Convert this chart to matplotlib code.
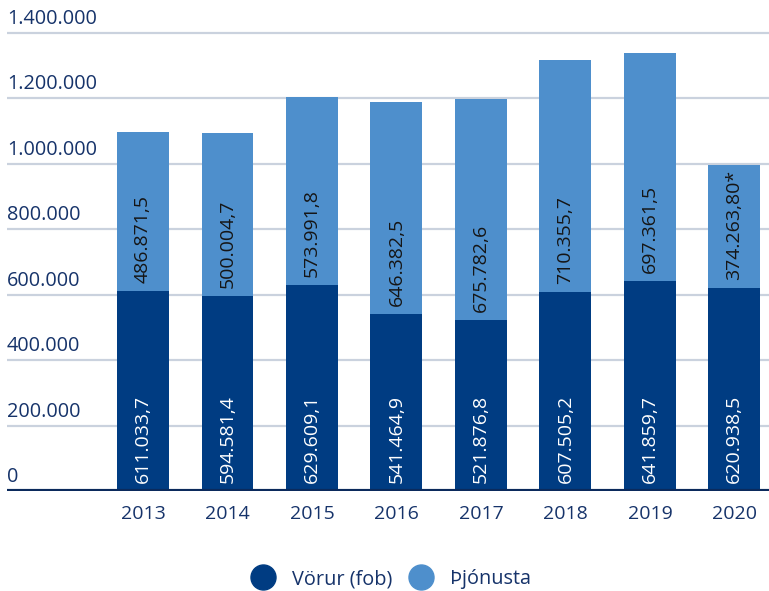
import matplotlib
matplotlib.use("Agg")
import matplotlib.pyplot as plt
from matplotlib.lines import Line2D
import matplotlib.transforms as mtransforms

years = ["2013", "2014", "2015", "2016", "2017", "2018", "2019", "2020"]
vorur = [611033.7, 594581.4, 629609.1, 541464.9, 521876.8, 607505.2, 641859.7, 620938.5]
thjonusta = [486871.5, 500004.7, 573991.8, 646382.5, 675782.6, 710355.7, 697361.5, 374263.80]
vorur_labels = ["611.033,7", "594.581,4", "629.609,1", "541.464,9", "521.876,8", "607.505,2", "641.859,7", "620.938,5"]
thjonusta_labels = ["486.871,5", "500.004,7", "573.991,8", "646.382,5", "675.782,6", "710.355,7", "697.361,5", "374.263,80*"]
yticks = [0, 200000, 400000, 600000, 800000, 1000000, 1200000, 1400000]
ytick_labels = ["0", "200.000", "400.000", "600.000", "800.000", "1.000.000", "1.200.000", "1.400.000"]
legend_labels = ["Vörur (fob)", "Þjónusta"]

DARK = "#003c82"
LIGHT = "#4e8fcc"
NAVY = "#16336a"
GRID = "#cad2de"

plt.rcParams['font.family'] = ['Open Sans', 'DejaVu Sans']

W, H = 769, 591
fig = plt.figure(figsize=(W / 100, H / 100), dpi=100)
y0_px, ytop_px = 491, 16.6
ax = fig.add_axes([7 / W, (H - y0_px) / H, 1 - 7 / W, (y0_px - ytop_px) / H])

x = list(range(len(years)))
ax.bar(x, vorur, width=0.615, color=DARK, zorder=3)
ax.bar(x, thjonusta, width=0.615, bottom=vorur, color=LIGHT, zorder=3)

ax.set_xlim(-1.61, 7.41)
ax.set_ylim(0, 1450000)

for yt in yticks[1:]:
    ax.axhline(yt, color=GRID, lw=1.6, zorder=1)
ax.axhline(0, color="#0b2a5c", lw=3, zorder=4)

for s in ax.spines.values():
    s.set_visible(False)
ax.set_yticks([])
ax.set_xticks(x)
ax.set_xticklabels(years, fontsize=14, color=NAVY)
ax.tick_params(axis='x', length=0, pad=10)

trans = mtransforms.blended_transform_factory(ax.transAxes, ax.transData)
off = mtransforms.offset_copy(trans, fig=fig, x=0, y=4, units='dots')
for yt, lab in zip(yticks, ytick_labels):
    ax.text(0, yt, lab, transform=off, ha='left', va='bottom', fontsize=14.3, color=NAVY)

o = mtransforms.offset_copy(ax.transData, fig=fig, x=0, y=8, units='dots')
for xi, v, t, vl, tl in zip(x, vorur, thjonusta, vorur_labels, thjonusta_labels):
    ax.text(xi, 0, vl, transform=o, rotation=90, ha='center', va='bottom',
            fontsize=14, color='white', zorder=5)
    ax.text(xi, v, tl, transform=o, rotation=90, ha='center', va='bottom',
            fontsize=14, color='#151515', zorder=5)

handles = [Line2D([], [], marker='o', ls='none', markersize=18, color=DARK),
           Line2D([], [], marker='o', ls='none', markersize=18, color=LIGHT)]
fig.legend(handles, legend_labels, loc='center', bbox_to_anchor=(0.508, (H - 579) / H),
           ncol=2, frameon=False, fontsize=14.3, handletextpad=0.8, columnspacing=0.8,
           labelcolor=NAVY, borderaxespad=0, borderpad=0, handlelength=1.3)

fig.savefig("out.png", dpi=100)
